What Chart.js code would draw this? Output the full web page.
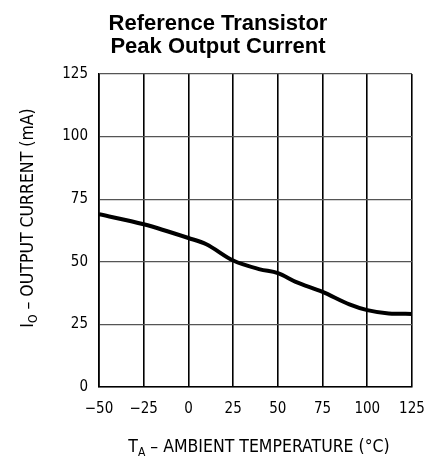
<!DOCTYPE html>
<html>
<head>
<meta charset="utf-8">
<script src="https://cdn.jsdelivr.net/npm/chart.js@4/dist/chart.umd.min.js"></script>
<style>
  html, body { margin: 0; padding: 0; background: #fff; }
  #wrap { width: 427px; height: 460px; }
</style>
</head>
<body>
<div id="wrap"><canvas id="chart" width="427" height="460"></canvas></div>
<script>
// data
const temps   = [-50, -25, 0, 10, 25, 40, 50, 60, 75, 90, 100, 112, 125];   // T_A (degC)
const current = [69, 65, 59.5, 57, 50.5, 47, 45.5, 42, 38, 33, 30.7, 29.4, 29.2]; // I_O (mA)
const xTicks  = [-50, -25, 0, 25, 50, 75, 100, 125];
const yTicks  = [0, 25, 50, 75, 100, 125];
const titleLines = ["Reference Transistor", "Peak Output Current"];

const narrow = "'DejaVu Sans Condensed', 'Liberation Sans Narrow', sans-serif";

// draws the title and the axis titles (with subscripts)
const labelsPlugin = {
    id: "labels",
    afterDraw(chart)
    {
        const ctx = chart.ctx;
        ctx.save();
        ctx.fillStyle = "#000";

        // title
        ctx.font = "bold 22px 'Liberation Sans', Arial, sans-serif";
        ctx.textAlign = "center";
        ctx.textBaseline = "alphabetic";
        ctx.fillText(titleLines[0], 218, 30);
        ctx.fillText(titleLines[1], 218, 53);

        // x axis title: T_A - AMBIENT TEMPERATURE (°C)
        drawSub(ctx, "T", "A", " \u2013 AMBIENT TEMPERATURE (\u00B0C)", 259, 452);

        // y axis title, rotated
        ctx.translate(33, 218);
        ctx.rotate(-Math.PI / 2);
        drawSub(ctx, "I", "O", " \u2013 OUTPUT CURRENT (mA)", 0, 0);
        ctx.restore();
    }
};

function drawSub(ctx, main, sub, rest, cx, baseline)
{
    const big = "17.5px " + narrow;
    const small = "12px " + narrow;
    ctx.font = big;
    const w1 = ctx.measureText(main).width;
    const w3 = ctx.measureText(rest).width;
    ctx.font = small;
    const w2 = ctx.measureText(sub).width;
    let x = cx - (w1 + w2 + w3) / 2;
    ctx.textAlign = "left";
    ctx.font = big;
    ctx.fillText(main, x, baseline);
    x += w1;
    ctx.font = small;
    ctx.fillText(sub, x, baseline + 4);
    x += w2;
    ctx.font = big;
    ctx.fillText(rest, x, baseline);
}

new Chart(document.getElementById("chart").getContext("2d"),
{
    type: "line",
    data:
    {
        datasets:
        [{
            data: temps.map((t, i) => ({ x: t, y: current[i] })),
            borderColor: "#000",
            borderWidth: 4,
            pointRadius: 0,
            fill: false,
            cubicInterpolationMode: "monotone"
        }]
    },
    plugins: [labelsPlugin],
    options:
    {
        responsive: false,
        animation: false,
        layout: { padding: { top: 74, right: 15, left: 0, bottom: 0 } },
        plugins:
        {
            legend: { display: false },
            title: { display: false },
            tooltip: { enabled: false }
        },
        scales:
        {
            x:
            {
                type: "linear",
                min: -50,
                max: 125,
                afterBuildTicks: s => { s.ticks = xTicks.map(v => ({ value: v })); },
                afterFit: s => { s.height = 73; s.paddingLeft = 0; s.paddingRight = 0; },
                grid: { color: "#000", lineWidth: 1.6, drawTicks: false },
                border: { color: "#000", width: 1.6 },
                ticks: { color: "#000", font: { size: 15, family: narrow }, padding: 13,
                         maxRotation: 0, callback: v => String(v).replace("-", "\u2212") }
            },
            y:
            {
                min: 0,
                max: 125,
                afterBuildTicks: s => { s.ticks = yTicks.map(v => ({ value: v })); },
                afterFit: s => { s.width = 99; s.paddingTop = 0; s.paddingBottom = 0; },
                grid: { color: "#555", lineWidth: 1.2, drawTicks: false },
                border: { color: "#000", width: 1.6 },
                ticks: { color: "#000", font: { size: 15, family: narrow }, padding: 11 }
            }
        }
    }
});
</script>
</body>
</html>
